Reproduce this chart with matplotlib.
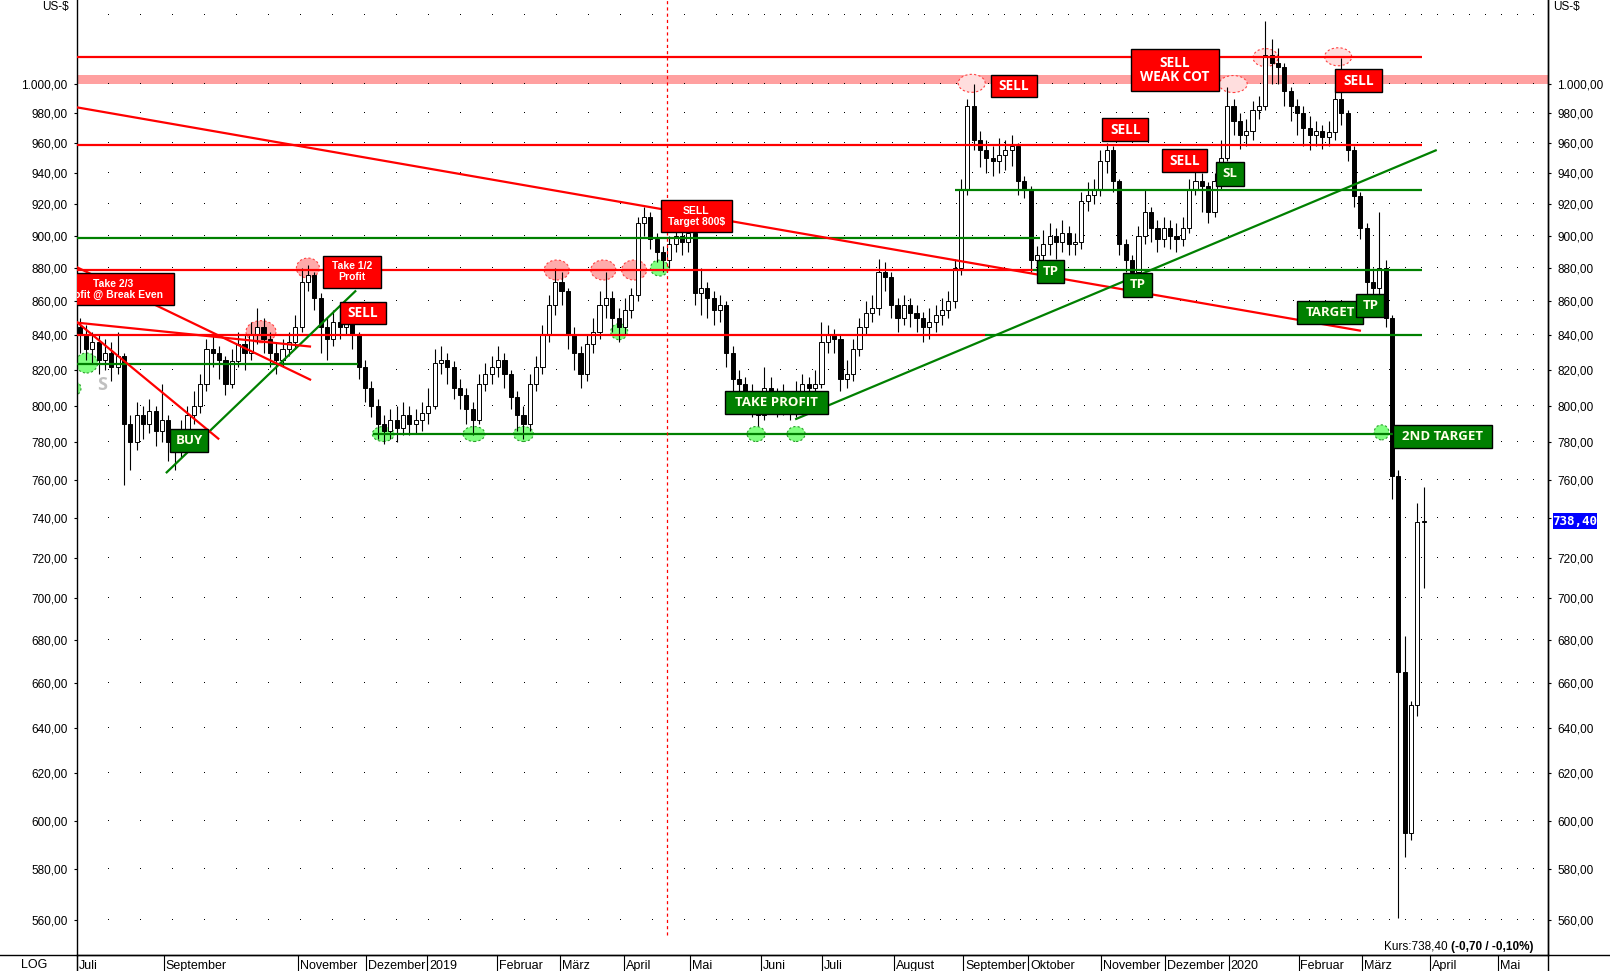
import numpy as np
import matplotlib
matplotlib.use('Agg')
import matplotlib.pyplot as plt
import matplotlib.transforms as mtransforms
from matplotlib.patches import Rectangle, Ellipse
from matplotlib.lines import Line2D
from matplotlib.ticker import FixedLocator, FixedFormatter, NullLocator

plt.rcParams['font.family'] = ['Liberation Sans', 'DejaVu Sans']

# 2-day candles, Jul 2018 .. Mar 2020 (x = trading day, candle i at day 1 + 2i)
first_open = 845
closes = [840, 832, 836, 826, 830, 822, 828, 790, 780, 795,
          790, 797, 786, 792, 780, 776, 785, 795, 800, 812,
          832, 830, 826, 812, 825, 835, 830, 840, 845, 838,
          830, 826, 832, 836, 845, 872, 876, 862, 845, 838,
          848, 845, 850, 840, 822, 810, 800, 790, 786, 792,
          788, 795, 790, 792, 796, 800, 824, 826, 822, 810,
          806, 798, 792, 812, 818, 822, 826, 818, 805, 795,
          790, 812, 822, 840, 858, 872, 866, 840, 830, 818,
          835, 842, 858, 862, 850, 845, 855, 864, 908, 912,
          898, 890, 885, 895, 900, 896, 902, 865, 868, 862,
          855, 858, 830, 815, 812, 808, 800, 795, 810, 806,
          800, 804, 797, 808, 812, 810, 812, 836, 840, 838,
          815, 818, 832, 845, 853, 856, 878, 875, 858, 850,
          858, 853, 850, 845, 848, 852, 855, 860, 880, 930,
          985, 962, 955, 950, 948, 952, 955, 958, 935, 930,
          885, 888, 895, 900, 896, 902, 895, 896, 922, 926,
          930, 948, 955, 935, 895, 885, 878, 900, 915, 905,
          898, 905, 900, 898, 905, 930, 935, 932, 915, 935,
          950, 985, 975, 965, 968, 982, 985, 1020, 1015, 1012,
          995, 985, 980, 970, 965, 968, 964, 967, 990, 980,
          955, 925, 905, 872, 868, 880, 850, 762, 665, 595,
          650, 738, 738.4]
highs = [850, 846, 842, 840, 838, 836, 842, 830, 795, 802,
         800, 804, 800, 812, 795, 786, 792, 800, 808, 818,
         838, 840, 834, 828, 832, 842, 840, 848, 856, 850,
         842, 836, 838, 842, 852, 880, 882, 878, 865, 850,
         855, 856, 858, 852, 842, 826, 814, 804, 795, 798,
         800, 802, 800, 798, 802, 810, 832, 834, 830, 825,
         815, 810, 802, 818, 824, 828, 834, 830, 820, 808,
         800, 818, 828, 846, 864, 880, 878, 868, 845, 834,
         840, 850, 866, 878, 866, 856, 862, 868, 912, 918,
         915, 902, 894, 900, 908, 907, 910, 904, 880, 872,
         866, 864, 860, 834, 820, 816, 812, 806, 822, 816,
         810, 812, 808, 814, 818, 816, 820, 848, 846, 844,
         840, 826, 838, 850, 860, 864, 886, 884, 878, 862,
         864, 862, 858, 854, 856, 858, 862, 866, 886, 936,
         990, 1000, 968, 962, 958, 963, 962, 965, 960, 938,
         932, 894, 904, 908, 905, 910, 906, 902, 928, 934,
         936, 955, 960, 958, 936, 898, 888, 906, 930, 918,
         910, 912, 910, 908, 912, 936, 944, 940, 934, 940,
         962, 998, 990, 980, 976, 988, 992, 1045, 1032, 1025,
         1015, 998, 990, 985, 978, 975, 972, 975, 998, 1018,
         982, 958, 928, 908, 880, 915, 885, 852, 765, 682,
         652, 748, 756]
lows = [830, 826, 824, 818, 820, 814, 818, 757, 765, 776,
        782, 785, 778, 780, 770, 765, 772, 782, 790, 796,
        808, 822, 815, 806, 810, 822, 820, 826, 835, 830,
        822, 818, 822, 828, 832, 842, 866, 855, 830, 826,
        834, 838, 840, 832, 815, 802, 794, 782, 779, 782,
        780, 784, 784, 785, 786, 790, 798, 818, 812, 804,
        798, 790, 784, 790, 808, 812, 816, 810, 798, 786,
        782, 786, 808, 818, 836, 852, 858, 832, 820, 810,
        814, 830, 838, 850, 842, 836, 840, 850, 860, 900,
        892, 884, 878, 880, 890, 888, 890, 858, 852, 850,
        846, 848, 822, 808, 804, 798, 794, 789, 792, 798,
        794, 795, 792, 794, 802, 804, 806, 810, 830, 830,
        808, 810, 814, 828, 840, 848, 852, 866, 850, 842,
        846, 845, 842, 836, 838, 842, 846, 850, 856, 876,
        926, 955, 944, 940, 938, 940, 942, 945, 926, 924,
        878, 878, 882, 888, 886, 890, 888, 888, 892, 916,
        920, 925, 940, 928, 888, 878, 872, 874, 895, 896,
        890, 893, 892, 890, 894, 902, 926, 915, 908, 912,
        930, 948, 965, 956, 958, 962, 976, 982, 1000, 1000,
        985, 975, 965, 958, 955, 958, 956, 958, 962, 972,
        948, 918, 898, 864, 862, 862, 845, 750, 561, 585,
        592, 645, 705]

price_levels = list(range(560, 1001, 20))
month_days = [0, 27.6, 70.0, 91.3, 110.7, 132.6, 152.5, 172.6, 193.5, 215.9,
              235.2, 257.9, 279.7, 300.2, 323.1, 343.3, 363.5, 385.5, 405.4,
              427.0, 448.4]
month_names = ['Juli', 'September', 'November', 'Dezember', '2019', 'Februar',
               'März', 'April', 'Mai', 'Juni', 'Juli', 'August', 'September',
               'Oktober', 'November', 'Dezember', '2020', 'Februar', 'März',
               'April', 'Mai']

# horizontal levels: price, from day, to day, colour
h_lines = [(1019, 0, 424.4, 'red'), (958.5, 0, 424.4, 'red'),
           (879, 0, 301.7, 'red'), (879, 301.7, 424.4, 'green'),
           (899, 0, 304, 'green'), (929, 277.1, 424.4, 'green'),
           (840.5, 0, 286.6, 'red'), (840.5, 286.6, 424.4, 'green'),
           (823.3, 0, 88.8, 'green'), (784.5, 93.5, 415.3, 'green')]
# trend lines: (day, price) -> (day, price)
trend_lines = [((0, 984), (405.2, 842.7), 'red'),
               ((28.2, 763.5), (88.2, 866.6), 'green'),
               ((0, 848), (45.0, 781.6), 'red'),
               ((0, 847.5), (74.0, 833.5), 'red'),
               ((0, 880.8), (74.0, 814.4), 'red'),
               ((226.7, 792.5), (429.1, 955.3), 'green')]
# marked spots: day, price, kind
spots = [(73.0, 880.2, 'pink'), (58.2, 842.2, 'pink'), (151.5, 879.0, 'pink'),
         (166.2, 879.0, 'pink'), (175.9, 879.0, 'pink'),
         (282.4, 1000.5, 'pale'), (364.9, 1000, 'pale'), (375.1, 1018.5, 'pale'),
         (398.0, 1019.1, 'pale'),
         (3.2, 824.1, 'green'), (-0.8, 809.7, 'green'), (171.2, 842.2, 'green'),
         (183.9, 880.2, 'green'), (96.8, 784.5, 'green'), (125.4, 784.5, 'green'),
         (141.0, 784.5, 'green'), (214.4, 784.5, 'green'), (227.0, 784.5, 'green'),
         (411.7, 785.4, 'green')]
spot_px = [(23, 20), (30, 22), (25, 20), (25, 20), (25, 20),
           (27, 18), (28, 17), (25, 18), (27, 18),
           (22, 20), (14, 14), (17, 16), (18, 16), (22, 15), (22, 15),
           (20, 15), (18, 15), (18, 15), (15, 15)]
# labels: text, day from, day to, price low, price high, kind
labels = [('Take 2/3\nProfit @ Break Even', -7.7, 30.85, 857.9, 877.0, 'red_s'),
          ('Take 1/2\nProfit', 77.85, 95.96, 868.3, 887.6, 'red_s'),
          ('SELL\nTarget 800$', 184.38, 206.69, 902.3, 922.7, 'red_s'),
          ('SELL', 83.12, 97.63, 846.7, 859.9, 'red'),
          ('SELL', 288.39, 302.9, 990.8, 1006.3, 'red'),
          ('SELL\nWEAK COT', 332.81, 360.32, 994.9, 1024.4, 'red'),
          ('SELL', 323.6, 338.11, 961.2, 976.5, 'red'),
          ('SELL', 342.33, 356.72, 940.6, 955.7, 'red'),
          ('SELL', 397.0, 411.74, 994.3, 1010.2, 'red'),
          ('BUY', 29.5, 41.58, 774.6, 787.2, 'green'),
          ('TAKE PROFIT', 204.57, 237.16, 795.3, 808.2, 'green'),
          ('TP', 302.9, 311.61, 870.9, 885.1, 'green'),
          ('TP', 330.22, 339.18, 862.9, 877.0, 'green'),
          ('SL', 359.46, 368.39, 931.9, 947.2, 'green'),
          ('TARGET', 385.11, 405.93, 846.5, 860.3, 'green'),
          ('TP', 403.72, 412.56, 850.6, 864.5, 'green'),
          ('2ND TARGET', 415.39, 446.43, 776.8, 789.4, 'green')]
last_price = 738.4

W, H = 1610, 971
fig = plt.figure(figsize=(W / 100, H / 100), dpi=100)
ax = fig.add_axes([76.5 / W, 16 / H, 1471.5 / W, 955 / H])
ax.set_yscale('log')
ax.set_xlim(0, 464.2)
ax.set_ylim(546.6, 1060)
px_day = 3.17

# dotted grid (every 2 weeks early, weekly later)
gx = np.concatenate([np.arange(211.9 - 10.1 * 21, 205, 10.1), np.arange(206.85, 464, 5.05)])
for lv in price_levels + [1049]:
    ax.plot(gx, [lv] * len(gx), ls='none', marker=',', color='black', zorder=0.6)

ax.axhspan(1000, 1006, color='#ffa0a0', lw=0, zorder=0.5)

for (d, p, kind), (w, h) in zip(spots, spot_px):
    fc = {'pink': '#ffaaaa', 'pale': '#ffdede', 'green': '#80ff80'}[kind]
    ec = '#2ca02c' if kind == 'green' else '#ff4040'
    ax.add_patch(Ellipse((d, p), w / px_day, p * h / 1442, facecolor=fc,
                         edgecolor=ec, ls=(0, (2, 2)), lw=0.8, zorder=1))

# candles
x = 1 + 2 * np.arange(len(closes))
c = np.array(closes, float)
o = np.array([first_open] + closes[:-1], float)
up = c >= o
ax.vlines(x, lows, highs, color='black', lw=0.8, zorder=2)
body = np.maximum(np.abs(c - o), 0.6)
ax.bar(x, body, bottom=np.minimum(o, c), width=1.3,
       color=np.where(up, 'white', 'black'), edgecolor='black', lw=0.7, zorder=2.1)

for p, d0, d1, col in h_lines:
    ax.hlines(p, d0, d1, colors='#ff0000' if col == 'red' else '#008000', lw=1.6, zorder=3)
for (d0, p0), (d1, p1), col in trend_lines:
    ax.plot([d0, d1], [p0, p1], color='#ff0000' if col == 'red' else '#008000',
            lw=1.6, zorder=3, solid_capstyle='butt')

ax.vlines(186.2, 554.2, 1060, colors='red', linestyles=(0, (2.5, 2.5)), lw=0.9, zorder=3)

ax.text(8.0, 811.6, 'S', color='#c0c0c0', fontsize=13, fontweight='bold',
        family='Open Sans', ha='center', va='center', zorder=1.2)

for txt, d0, d1, p0, p1, kind in labels:
    fc = '#008000' if kind == 'green' else '#ff0000'
    ax.add_patch(Rectangle((d0, p0), d1 - d0, p1 - p0, facecolor=fc,
                           edgecolor='black', lw=1, zorder=5))
    cx, cy = (d0 + d1) / 2, np.sqrt(p0 * p1)
    if kind == 'red_s':
        ax.text(cx, cy, txt, color='white', fontsize=7.5, fontweight='bold',
                family='Liberation Sans', ha='center', va='center',
                linespacing=1.1, zorder=6, clip_on=True)
    else:
        ax.text(cx, cy, txt, color='white' if kind == 'red' else '#ffffe8',
                fontsize=9.8 if kind == 'red' else 9.5, fontweight='bold',
                family='Open Sans', ha='center', va='center',
                linespacing=1.0, zorder=6, clip_on=True)


def fmt(v):
    return f'{v:,.2f}'.replace(',', 'X').replace('.', ',').replace('X', '.')


# axes frame and ticks
for s in ['left', 'right', 'bottom']:
    ax.spines[s].set_linewidth(1.0)
ax.spines['top'].set_visible(False)
ax.yaxis.set_major_locator(FixedLocator(price_levels))
ax.yaxis.set_minor_locator(NullLocator())
ax.yaxis.set_major_formatter(FixedFormatter([fmt(v) for v in price_levels]))
ax.tick_params(axis='y', which='major', left=True, right=False, labelleft=True,
               labelright=False, direction='out', length=2.5, width=0.8, pad=4,
               labelsize=8.5, colors='black')
ax.set_xticks([])

# right scale: the 740 label sits under the last-price tag
ax2 = ax.twinx()
ax2.set_yscale('log')
ax2.set_ylim(ax.get_ylim())
ax2.yaxis.set_major_locator(FixedLocator(price_levels))
ax2.yaxis.set_minor_locator(NullLocator())
ax2.yaxis.set_major_formatter(FixedFormatter(['' if v == 740 else fmt(v) for v in price_levels]))
ax2.tick_params(axis='y', which='major', direction='out', length=2.5, width=0.8,
                pad=4, labelsize=8.5, colors='black')
for s in ['left', 'top', 'bottom']:
    ax2.spines[s].set_visible(False)
ax2.spines['right'].set_linewidth(1.0)

bt = mtransforms.blended_transform_factory(ax.transData, ax.transAxes)
ax.vlines(month_days, -16 / 955, 0, colors='black', lw=0.8, transform=bt, clip_on=False)
for d, name in zip(month_days, month_names):
    ax.text(d + 0.6, -10.5 / 955, name, transform=bt, ha='left', va='center',
            fontsize=9, clip_on=False)

# bottom band lines
fig.add_artist(Line2D([0, 1], [16 / H, 16 / H], color='black', lw=1.0))
for xx in [76.5 / W, 1548 / W]:
    fig.add_artist(Line2D([xx, xx], [0, 16 / H], color='black', lw=1.0))

fig.text(34.5 / W, 1 - 965 / H, 'LOG', ha='center', va='center', fontsize=9)
fig.text(55 / W, 1 - 6.7 / H, 'US-$', ha='center', va='center', fontsize=8.5)
fig.text(1566.5 / W, 1 - 6.7 / H, 'US-$', ha='center', va='center', fontsize=8.5)

# last price tag
fig.add_artist(Rectangle((1552.7 / W, 1 - 529 / H), 44 / W, 15.7 / H,
                         transform=fig.transFigure, facecolor='#0000ff',
                         edgecolor='none', zorder=8))
fig.text(1574.7 / W, 1 - 521.2 / H, fmt(last_price), color='white', fontsize=9,
         fontweight='bold', family='DejaVu Sans Mono', ha='center', va='center', zorder=9)

kb = fig.text(1533.5 / W, 1 - 946.7 / H, '(-0,70 / -0,10%)', ha='right', va='center',
              fontsize=8.5, fontweight='bold')
fig.canvas.draw()
bb = kb.get_window_extent()
fig.text((bb.x0 - 3) / fig.bbox.width, 1 - 946.7 / H, 'Kurs:' + fmt(last_price),
         ha='right', va='center', fontsize=8.5)

fig.savefig('out.png', dpi=100)
